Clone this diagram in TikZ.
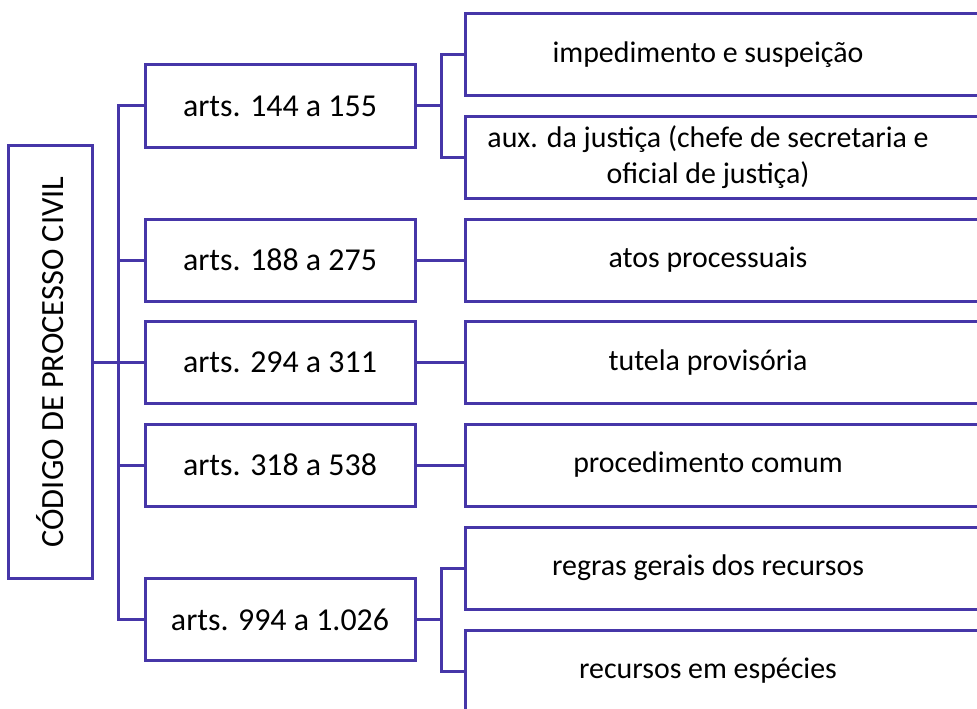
\documentclass[tikz,border=0pt]{standalone}
\usepackage{fontspec}
\setmainfont{Carlito}
\definecolor{lineblue}{RGB}{70,54,168}
\begin{document}
\begin{tikzpicture}[x=1bp,y=-1bp,
  conn/.style={draw=lineblue,line width=3bp},
  rootbox/.style={draw=lineblue,line width=3bp,rectangle,outer sep=0pt,inner sep=0pt,
    minimum width=83bp,minimum height=432bp,font=\fontsize{32.5}{38}\selectfont},
  midbox/.style={draw=lineblue,line width=3bp,rectangle,outer sep=0pt,inner sep=0pt,
    minimum width=270bp,minimum height=82bp,font=\fontsize{32}{38}\selectfont},
  rbox/.style={rectangle,outer sep=0pt,inner sep=0pt,align=center,
    minimum width=486bp,minimum height=82bp,font=\fontsize{30}{36}\selectfont},
  openbox/.style={draw=lineblue,line width=3bp}
]
\useasboundingbox (0,0) rectangle (977,709);
\clip (0,0) rectangle (977,709);
\fill[white] (0,0) rectangle (977,709);

% root
\node[rootbox] (root) at (50.5,362) {\rotatebox{90}{CÓDIGO DE PROCESSO CIVIL}};

% middle boxes
\node[midbox] (m1) at (280,106) {arts. 144 a 155};
\node[midbox] (m2) at (280,260) {arts. 188 a 275};
\node[midbox] (m3) at (280,362.5) {arts. 294 a 311};
\node[midbox] (m4) at (280,465) {arts. 318 a 538};
\node[midbox] (m5) at (280,619.5) {arts. 994 a 1.026};

% right boxes (extend beyond the right edge)
\node[rbox] (r1) at (708,55) {impedimento e suspeição};
\node[rbox] (r2) at (708,157.5) {aux. da justiça (chefe de secretaria e\\oficial de justiça)};
\node[rbox] (r3) at (708,260) {atos processuais};
\node[rbox] (r4) at (708,362.5) {tutela provisória};
\node[rbox] (r5) at (708,465) {procedimento comum};
\node[rbox] (r6) at (708,568) {regras gerais dos recursos};
\node[rbox] (r7) at (708,671) {recursos em espécies};
\foreach \n in {r1,r2,r3,r4,r5,r6,r7}{
  \draw[openbox] ([xshift=60bp]\n.north east) -| (\n.south west) -- ([xshift=60bp]\n.south east);
}

% spines
\coordinate (sp) at (118,0);
\coordinate (spa) at (441,0);
\coordinate (spb) at (441,0);

\draw[conn] (root.east) -- (root.east -| sp);
\draw[conn] (m1.west) -| (sp |- m5.west) -- (m5.west);
\foreach \n in {m2,m3,m4}{
  \draw[conn] (\n.west) -- (\n.west -| sp);
}

\draw[conn] (m1.east) -- (m1.east -| spa);
\draw[conn] (r1.west) -| (spa |- r2.west) -- (r2.west);

\draw[conn] (m2.east) -- (r3.west);
\draw[conn] (m3.east) -- (r4.west);
\draw[conn] (m4.east) -- (r5.west);

\draw[conn] (m5.east) -- (m5.east -| spb);
\draw[conn] (r6.west) -| (spb |- r7.west) -- (r7.west);
\end{tikzpicture}
\end{document}
